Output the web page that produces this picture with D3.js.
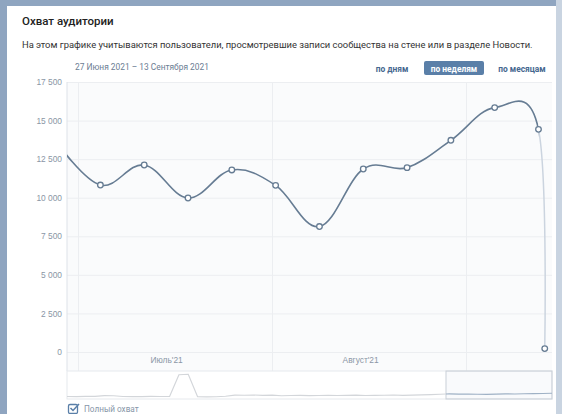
<!DOCTYPE html>
<html>
<head>
<meta charset="utf-8">
<script src="https://cdn.jsdelivr.net/npm/d3@7"></script>
<style>
  body { margin: 0; background: #8fa5c0; }
  svg { display: block; font-family: Roboto, "Noto Sans", sans-serif; }
</style>
</head>
<body>
<div id="chart"></div>
<script>
// weekly reach
var weeks = ['2021-06-27', '2021-07-04', '2021-07-11', '2021-07-18', '2021-07-25', '2021-08-01',
  '2021-08-08', '2021-08-15', '2021-08-22', '2021-08-29', '2021-09-05', '2021-09-12', '2021-09-13'];
var reach = [13600, 10820, 12120, 9980, 11800, 10800, 8130, 11860, 11950, 13720, 15840, 14430, 220];

var yTicks = [0, 2500, 5000, 7500, 10000, 12500, 15000, 17500];
var monthStarts = ['2021-07-01', '2021-08-01', '2021-09-01'];
var monthMids = ['2021-07-15', '2021-08-15'];
var monthLabels = ["Июль'21", "Август'21"];

// navigator: a year of weekly values in small print
var navValues = [8000, 7500, 8200, 8800, 11500, 11000, 8000, 7600, 7800, 8200, 7900, 8000,
  95000, 97000, 7500, 6500, 7000, 9000, 13500, 13000, 14000, 12500, 13500, 11000, 12000,
  12500, 11500, 12000, 13000, 12000, 12500, 13500, 12000, 12500, 13000, 14000, 12500, 13500,
  14500, 15500, 17000, 18500, 17500, 18000, 17000, 16500, 17500, 18500, 18000, 19000, 19500,
  20000, 21000];

var buttons = ['по дням', 'по неделям', 'по месяцам'];

var svgWidth = 562;
var svgHeight = 414;
var plot = { left: 67, right: 552, top: 82, bottom: 352 };

var parse = d3.timeParse('%Y-%m-%d');
var fmt = d3.formatLocale({ decimal: ',', thousands: '\u00a0', grouping: [3], currency: ['', ''] }).format(',');

var svg = d3.select('#chart')
  .append('svg')
  .attr('width', svgWidth)
  .attr('height', svgHeight);

// page background and card
svg.append('rect').attr('x', 556).attr('y', 0).attr('width', 6).attr('height', svgHeight).attr('fill', '#c9d4e1');
svg.append('rect').attr('x', 7).attr('y', 6).attr('width', 549).attr('height', 420).attr('fill', '#fff');

svg.append('text')
  .attr('x', 22).attr('y', 25)
  .style('font-size', '11.5px').style('font-weight', 500).attr('fill', '#222')
  .text('Охват аудитории');

svg.append('text')
  .attr('x', 22).attr('y', 47.5)
  .style('font-size', '9.4px').attr('fill', '#333')
  .text('На этом графике учитываются пользователи, просмотревшие записи сообщества на стене или в разделе Новости.');

svg.append('text')
  .attr('x', 75).attr('y', 70)
  .style('font-size', '8.4px').attr('fill', '#6b7d93')
  .text('27 Июня 2021 – 13 Сентября 2021');

// period switch
var btnX = [392, 454, 522];
svg.append('rect')
  .attr('x', 424).attr('y', 61).attr('width', 60).attr('height', 14).attr('rx', 2)
  .attr('fill', '#5a7fa8');
svg.selectAll('.btn')
  .data(buttons)
  .enter()
  .append('text')
  .attr('x', (d, i) => btnX[i])
  .attr('y', 71.5)
  .attr('text-anchor', 'middle')
  .style('font-size', '8.4px').style('font-weight', 700)
  .attr('fill', (d, i) => i === 1 ? '#fff' : '#45678f')
  .text(d => d);

// scales
var x = d3.scaleTime()
  .domain([new Date(2021, 5, 29, 3, 54), new Date(2021, 8, 14, 15, 50)])
  .range([plot.left, plot.right]);

var y = d3.scaleLinear()
  .domain([0, 17500])
  .range([plot.bottom, plot.top]);

// points sit at midday of their day
var points = weeks.map((w, i) => ({ date: d3.timeHour.offset(parse(w), 12), value: reach[i] }));

svg.append('rect')
  .attr('x', plot.left).attr('y', plot.top)
  .attr('width', plot.right - plot.left).attr('height', 371 - plot.top)
  .attr('fill', '#fafbfc');

// horizontal grid
svg.append('g')
  .attr('transform', `translate(${plot.left}, 0)`)
  .call(d3.axisLeft(y).tickValues(yTicks).tickSize(-(plot.right - plot.left)).tickFormat(''))
  .call(g => g.select('.domain').remove())
  .call(g => g.selectAll('line').attr('stroke', '#eceef1'));

// month grid
svg.append('g')
  .selectAll('line')
  .data(monthStarts)
  .enter()
  .append('line')
  .attr('x1', d => x(parse(d))).attr('x2', d => x(parse(d)))
  .attr('y1', plot.top).attr('y2', 371)
  .attr('stroke', '#eceef1');

svg.append('line')
  .attr('x1', plot.left).attr('x2', plot.left)
  .attr('y1', plot.top).attr('y2', 371)
  .attr('stroke', '#dde2e8');

// y labels
svg.append('g')
  .attr('transform', `translate(${plot.left}, 0)`)
  .call(d3.axisLeft(y).tickValues(yTicks).tickSize(0).tickPadding(5).tickFormat(fmt))
  .call(g => g.select('.domain').remove())
  .call(g => g.selectAll('text').style('font-size', '8.4px').attr('fill', '#8a96a5'));

// month labels
svg.append('g')
  .attr('transform', `translate(0, ${plot.bottom})`)
  .call(d3.axisBottom(x).tickValues(monthMids.map(parse)).tickSize(0).tickPadding(5)
    .tickFormat((d, i) => monthLabels[i]))
  .call(g => g.select('.domain').remove())
  .call(g => g.selectAll('text').style('font-size', '8.4px').attr('fill', '#8a96a5'));

// line, dark up to the last full week, light after it
var lastFull = x(points[points.length - 2].date);
var defs = svg.append('defs');
defs.append('clipPath').attr('id', 'clipMain')
  .append('rect').attr('x', plot.left).attr('y', 0).attr('width', lastFull - plot.left).attr('height', 371);
defs.append('clipPath').attr('id', 'clipTail')
  .append('rect').attr('x', lastFull).attr('y', 0).attr('width', plot.right - lastFull).attr('height', 371);

var line = d3.line()
  .x(d => x(d.date))
  .y(d => y(d.value))
  .curve(d3.curveCardinal.tension(-0.1));

svg.append('path')
  .datum(points)
  .attr('d', line)
  .attr('fill', 'none')
  .attr('stroke', '#cbd4df')
  .attr('stroke-width', 1.5)
  .attr('clip-path', 'url(#clipTail)');

svg.append('path')
  .datum(points)
  .attr('d', line)
  .attr('fill', 'none')
  .attr('stroke', '#667c93')
  .attr('stroke-width', 1.6)
  .attr('clip-path', 'url(#clipMain)');

svg.selectAll('.dot')
  .data(points.filter(d => x(d.date) >= plot.left))
  .enter()
  .append('circle')
  .attr('cx', d => x(d.date))
  .attr('cy', d => y(d.value))
  .attr('r', 2.8)
  .attr('fill', '#fff')
  .attr('stroke', '#667c93')
  .attr('stroke-width', 1.3);

// navigator
var nx = d3.scaleLinear().domain([0, navValues.length - 1]).range([plot.left, plot.right]);
var ny = d3.scaleLinear().domain([0, 110000]).range([398.5, 371]);
var selX = 446;

svg.append('rect')
  .attr('x', plot.left).attr('y', 371).attr('width', plot.right - plot.left).attr('height', 28)
  .attr('fill', '#fff').attr('stroke', '#e6e9ed');

defs.append('clipPath').attr('id', 'clipNavOut')
  .append('rect').attr('x', plot.left).attr('y', 371).attr('width', selX - plot.left).attr('height', 28);
defs.append('clipPath').attr('id', 'clipNavIn')
  .append('rect').attr('x', selX).attr('y', 371).attr('width', plot.right - selX).attr('height', 28);

var navLine = d3.line()
  .x((d, i) => nx(i))
  .y(d => ny(d));

svg.append('path')
  .datum(navValues)
  .attr('d', navLine)
  .attr('fill', 'none')
  .attr('stroke', '#d3d6da')
  .attr('stroke-width', 1.2)
  .attr('clip-path', 'url(#clipNavOut)');

svg.append('rect')
  .attr('x', selX).attr('y', 371).attr('width', plot.right - selX).attr('height', 28)
  .attr('fill', 'rgba(110,140,180,0.04)').attr('stroke', '#c9cfd7');

svg.append('path')
  .datum(navValues)
  .attr('d', navLine)
  .attr('fill', 'none')
  .attr('stroke', '#9fb1c5')
  .attr('stroke-width', 1.2)
  .attr('clip-path', 'url(#clipNavIn)');

// checkbox
svg.append('rect')
  .attr('x', 68.5).attr('y', 404.5).attr('width', 9).attr('height', 9).attr('rx', 1.5)
  .attr('fill', '#fff').attr('stroke', '#5a7fa8').attr('stroke-width', 1.3);
svg.append('path')
  .attr('d', 'M70.5,408 L73,410.5 L79,404')
  .attr('fill', 'none').attr('stroke', '#5a7fa8').attr('stroke-width', 1.5);
svg.append('text')
  .attr('x', 84).attr('y', 411.5)
  .style('font-size', '8.2px').attr('fill', '#8796a8')
  .text('Полный охват');
</script>
</body>
</html>
